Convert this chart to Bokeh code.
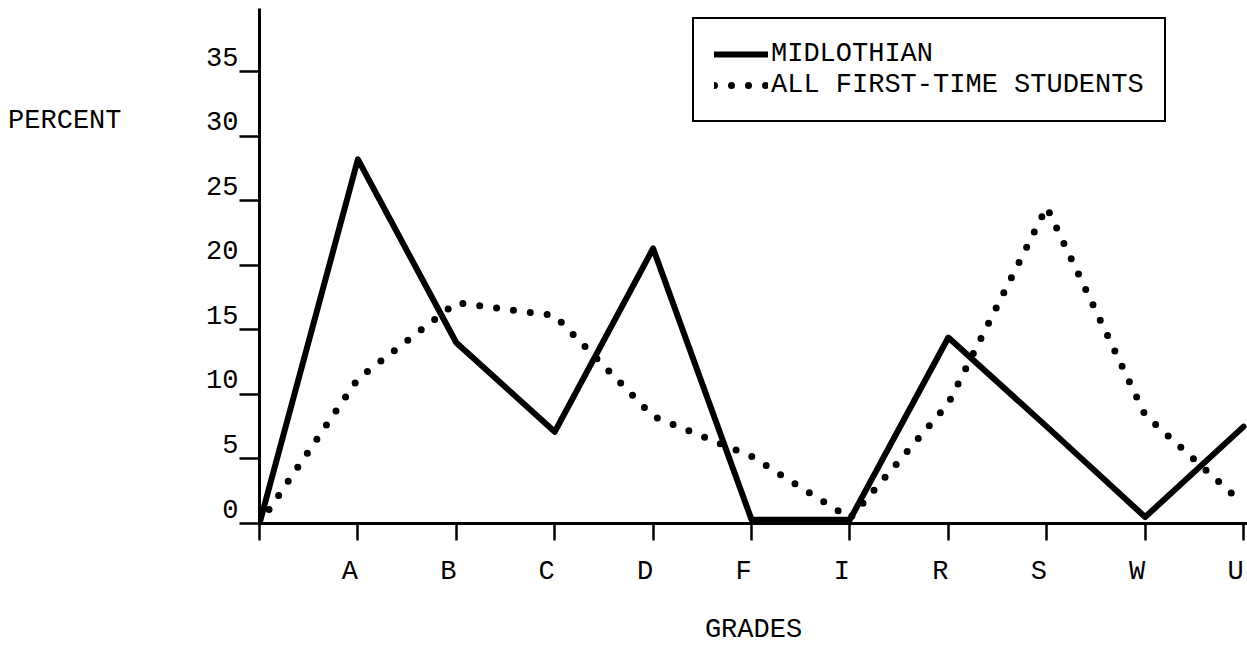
from bokeh.plotting import figure
from bokeh.models import (LinearAxis, FixedTicker, Range1d, Legend, LegendItem,
                          CustomLabelingPolicy)
from bokeh.embed import file_html
from bokeh.resources import INLINE

# ---- data ----
grades = ["", "A", "B", "C", "D", "F", "I", "R", "S", "W", "U"]
midlothian = [0, 28.2, 14.0, 7.1, 21.3, 0.3, 0.3, 14.4, 7.5, 0.5, 7.5]
all_first_time = [0, 11.2, 17.1, 16.1, 8.3, 5.2, 0.4, 9.3, 24.5, 8.4, 1.5]
y_tick_values = [0, 5, 10, 15, 20, 25, 30, 35]
y_tick_labels = ["0", "5", "10", "15", "20", "25", "30", "35"]
series_names = ["MIDLOTHIAN", "ALL FIRST-TIME STUDENTS"]
y_title = "PERCENT"
x_title = "GRADES"

FONT = "Liberation Mono"
FSIZE = "27px"

W, H = 1247, 647
LEFT, TOP, BOTTOM = 259, 8, 523
X_END, Y_END = 10.04, 39.88

x_pos = list(range(len(grades)))

p = figure(width=W, height=H, output_backend="svg", toolbar_location=None,
           x_axis_type=None, y_axis_type=None,
           x_range=Range1d(0, X_END), y_range=Range1d(0, Y_END),
           min_border_left=LEFT, min_border_right=0, min_border_top=TOP,
           min_border_bottom=H - BOTTOM)
p.grid.visible = False
p.outline_line_color = None
p.background_fill_color = "white"
p.border_fill_color = "white"

px_per_x = (W - LEFT) / X_END
px_per_y = (BOTTOM - TOP) / Y_END
dx = 8 / px_per_x
dy = 15 / px_per_y

no_labels = CustomLabelingPolicy(code="return []")

text_style = dict(major_label_text_font=FONT, major_label_text_font_size=FSIZE,
                  major_label_text_color="black")

# ---- x axes: tick marks at the frame, typed letters a little to the left ----
xt = LinearAxis(ticker=FixedTicker(ticks=x_pos), major_tick_in=0, major_tick_out=17,
                major_tick_line_width=2.5, minor_tick_line_color=None,
                axis_line_width=3, major_label_policy=no_labels,
                major_label_text_font_size="1px", major_label_standoff=0)
p.add_layout(xt, "below")

xl_ticks = [i - dx for i in x_pos[1:]]
xl = LinearAxis(ticker=FixedTicker(ticks=xl_ticks),
                major_label_overrides={t: g for t, g in zip(xl_ticks, grades[1:])},
                axis_line_color=None, major_tick_line_color=None, minor_tick_line_color=None,
                major_label_standoff=6, **text_style,
                axis_label=x_title, axis_label_text_font=FONT,
                axis_label_text_font_size=FSIZE, axis_label_text_font_style="normal",
                axis_label_text_color="black", axis_label_standoff=25)
p.add_layout(xl, "below")

# ---- y axes: tick marks at the frame, numbers typed just above each tick ----
yt = LinearAxis(ticker=FixedTicker(ticks=y_tick_values), major_tick_in=0, major_tick_out=20,
                major_tick_line_width=2.5, minor_tick_line_color=None,
                axis_line_width=3, major_label_policy=no_labels,
                major_label_text_font_size="1px", major_label_standoff=0)
p.add_layout(yt, "left")

yl_ticks = [v + dy for v in y_tick_values]
yl = LinearAxis(ticker=FixedTicker(ticks=yl_ticks),
                major_label_overrides={t: s for t, s in zip(yl_ticks, y_tick_labels)},
                axis_line_color=None, major_tick_line_color=None, minor_tick_line_color=None,
                major_label_standoff=-9, **text_style)
p.add_layout(yl, "left")

# "PERCENT" typed on the same line as the 30 label, far to the left
pct_tick = [y_tick_values[-2] + dy]
yp = LinearAxis(ticker=FixedTicker(ticks=pct_tick),
                major_label_overrides={pct_tick[0]: y_title},
                axis_line_color=None, major_tick_line_color=None, minor_tick_line_color=None,
                major_label_standoff=76, **text_style)
p.add_layout(yp, "left")

# ---- series ----
r1 = p.line(x_pos, midlothian, line_color="black", line_width=6,
            line_join="round", line_cap="round")
r2 = p.line(x_pos, all_first_time, line_color="black", line_width=7,
            line_dash="0 17", line_cap="round", line_join="round")

legend = Legend(items=[LegendItem(label=series_names[0], renderers=[r1]),
                       LegendItem(label=series_names[1], renderers=[r2])],
                location=(433, 401), glyph_width=54, label_standoff=3,
                padding=20, spacing=1, margin=0,
                label_text_font=FONT, label_text_font_size=FSIZE, label_text_color="black",
                border_line_color="black", border_line_width=2, border_line_alpha=1.0,
                background_fill_color="white", background_fill_alpha=1.0)
p.add_layout(legend)

open("out.html", "w").write(file_html(p, INLINE))
